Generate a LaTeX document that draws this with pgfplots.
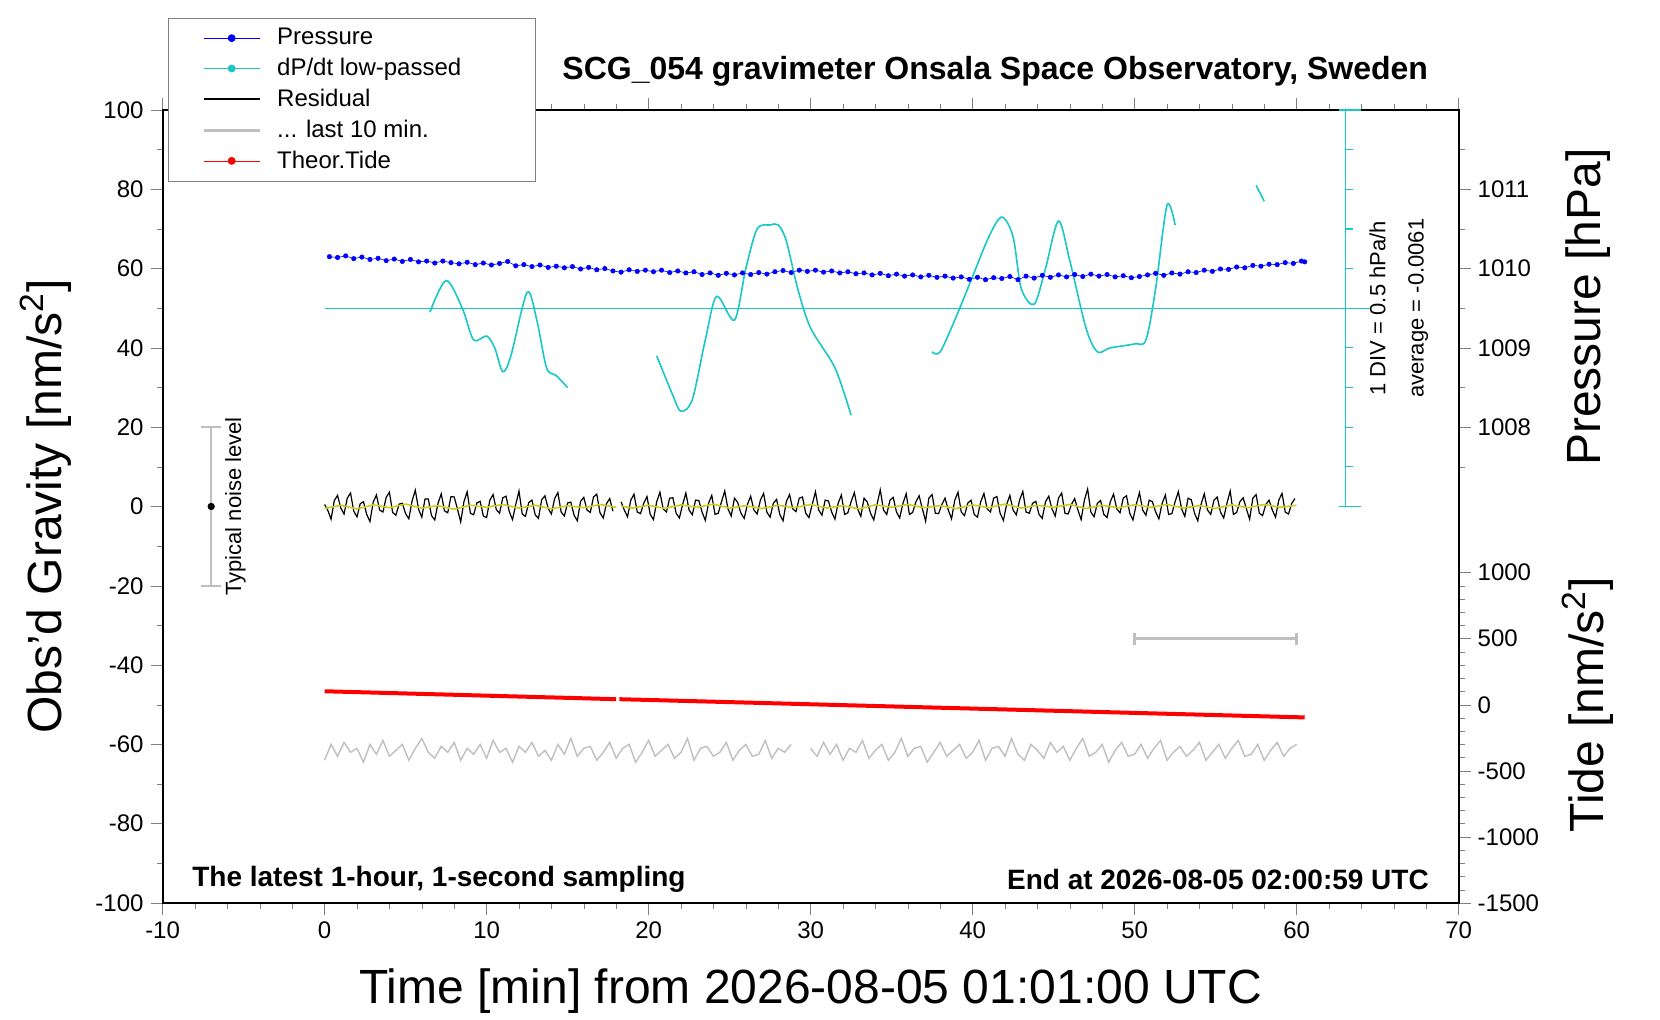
\documentclass[border=0pt]{standalone}
\usepackage{pgfplots}
\pgfplotsset{compat=1.18}
\usepackage{pgfplotstable}
\usepackage{fontspec}
\setmainfont{Liberation Sans}
\definecolor{cy}{rgb}{0.1,0.78,0.78}
\definecolor{gr}{rgb}{0.75,0.75,0.75}
\definecolor{yl}{rgb}{0.8,0.8,0.1}
\pgfplotstableread[row sep=\\]{y\\0.5\\-1.0\\-3.2\\1.5\\2.8\\-0.4\\-1.9\\2.1\\3.4\\-1.2\\-2.6\\0.7\\1.2\\-2.0\\-3.8\\1.1\\2.9\\-0.9\\-1.4\\2.3\\3.6\\-1.5\\-2.2\\0.6\\0.8\\-1.8\\-3.1\\1.4\\4.1\\-0.7\\-2.7\\1.9\\1.9\\-2.3\\-3.4\\0.8\\3.2\\-1.1\\-1.6\\2.5\\2.4\\-0.6\\-3.9\\1.2\\3.7\\-1.7\\-2.1\\0.9\\1.3\\-2.4\\-2.8\\1.6\\3.0\\-0.8\\-1.7\\2.2\\2.6\\-1.3\\-3.3\\0.5\\3.9\\-1.9\\-2.5\\1.0\\1.6\\-2.1\\-3.0\\1.7\\2.7\\-0.5\\-1.9\\2.0\\3.5\\-1.4\\-2.4\\0.9\\1.1\\-2.2\\-3.6\\1.3\\2.3\\-0.9\\-1.5\\2.4\\3.1\\-1.6\\-2.9\\0.7\\2.0\\-1.2\\}\resA
\pgfplotstableread[row sep=\\]{y\\1.2\\-0.9\\-2.6\\1.6\\3.1\\-1.4\\-1.8\\0.8\\2.5\\-2.0\\-3.3\\1.2\\3.6\\-0.6\\-1.4\\2.1\\2.2\\-1.7\\-2.9\\0.5\\3.4\\-0.9\\-2.1\\1.6\\1.5\\-1.4\\-3.5\\0.8\\2.8\\-2.0\\-1.7\\1.2\\3.9\\-0.6\\-2.4\\2.1\\1.0\\-1.7\\-3.0\\0.5\\2.6\\-0.9\\-1.9\\1.6\\3.3\\-1.4\\-2.7\\0.8\\1.8\\-2.0\\-3.6\\1.2\\3.0\\-0.6\\-1.3\\2.1\\2.4\\-1.7\\-2.8\\0.5\\3.7\\-0.9\\-2.2\\1.6\\1.4\\-1.4\\-3.2\\0.8\\2.9\\-2.0\\-1.6\\1.2\\3.5\\-0.6\\-2.5\\2.1\\1.1\\-1.7\\-3.4\\0.5\\4.2\\-0.9\\-2.0\\1.6\\2.3\\-1.4\\-2.9\\0.8\\3.2\\-2.0\\-1.5\\1.2\\2.7\\-0.6\\-3.7\\2.1\\3.0\\-1.7\\-1.8\\0.5\\2.1\\-0.9\\-3.1\\1.6\\3.6\\-1.4\\-2.3\\0.8\\1.6\\-2.0\\-2.7\\1.2\\3.3\\-0.6\\-1.4\\2.1\\2.5\\-1.7\\-3.5\\0.5\\2.8\\-0.9\\-2.1\\1.6\\3.8\\-1.4\\-1.7\\0.8\\1.3\\-2.0\\-3.0\\1.2\\2.6\\-0.6\\-2.4\\2.1\\3.4\\-1.7\\-1.9\\0.5\\2.0\\-0.9\\-3.3\\1.6\\4.4\\-1.4\\-2.6\\0.8\\1.5\\-2.0\\-2.8\\1.2\\3.1\\-0.6\\-1.6\\2.1\\2.7\\-1.7\\-3.4\\0.5\\3.5\\-0.9\\-2.2\\1.6\\1.2\\-1.4\\-3.1\\0.8\\2.9\\-2.0\\-1.8\\1.2\\3.7\\-0.6\\-2.5\\2.1\\1.7\\-1.7\\-3.6\\0.5\\3.2\\-0.9\\-2.0\\1.6\\2.4\\-1.4\\-2.9\\0.8\\3.9\\-2.0\\-1.5\\1.2\\2.2\\-0.6\\-3.2\\2.1\\3.0\\-1.7\\-2.3\\0.5\\1.6\\-0.9\\-2.7\\1.6\\3.3\\-1.4\\-1.9\\0.8\\2.0\\}\resB
\pgfplotstableread[row sep=\\]{y\\-64\\-60\\-63\\-59.5\\-62\\-61\\-64.5\\-60\\-62.5\\-59\\-63\\-61.5\\-60\\-64\\-61\\-58.5\\-62\\-63.5\\-60.5\\-62\\-59.5\\-64\\-61\\-62.5\\-60\\-63.5\\-59\\-62\\-61\\-64.5\\-60.5\\-62\\-59.5\\-63\\-61.5\\-64\\-60\\-62.5\\-58.5\\-63\\-61\\-60.5\\-64\\-62\\-59.5\\-63.5\\-61\\-60\\-64.5\\-62\\-59\\-63\\-61.5\\-60\\-63.5\\-62\\-58.5\\-64\\-61\\-60.5\\-63\\-62\\-59.5\\-64\\-61.5\\-60\\-63\\-62.5\\-59\\-63.5\\-61\\-62\\-60\\}\grA
\pgfplotstableread[row sep=\\]{y\\-61\\-63\\-59.5\\-62.5\\-60\\-64\\-61\\-62\\-59\\-63.5\\-61.5\\-60\\-64\\-62\\-58.5\\-63\\-61\\-60.5\\-64.5\\-62\\-59.5\\-63\\-61.5\\-60\\-63.5\\-62\\-59\\-64\\-61\\-60.5\\-63\\-58.5\\-62.5\\-64\\-60\\-61.5\\-63.5\\-59.5\\-62\\-60.5\\-64\\-61\\-58.5\\-63\\-62\\-60\\-64.5\\-61.5\\-59.5\\-63\\-62.5\\-60\\-63.5\\-61\\-59\\-64\\-62\\-60.5\\-63\\-61.5\\-59.5\\-64\\-62\\-60\\-63.5\\-61\\-59\\-63\\-62.5\\-60\\-64\\-61.5\\-59.5\\-63\\-61\\-60\\}\grB
\newcommand{\legtxt}[1]{\hspace{6pt}\makebox[110pt][l]{#1}}
\begin{document}
\begin{tikzpicture}[font=\fontsize{12}{14}\selectfont]
\path[use as bounding box] (-81.3pt,-58.5pt) rectangle (748.7pt,451.5pt);
% pressure axis
\begin{axis}[scale only axis, width=648pt, height=396.5pt, at={(0,0)}, anchor=south west,
  ymin=1002, ymax=1012, xmin=-10, xmax=70, hide x axis, axis y line*=right,
  axis line style={draw=none}, ytick={1008,1009,1010,1011}, minor ytick={1007.5,1008.5,1009.5,1010.5,1011.5},
  tick align=outside, major tick length=6pt, minor tick length=3pt,
  /pgf/number format/assume math mode=true, /pgf/number format/set thousands separator={}]
\end{axis}
% tide axis
\begin{axis}[scale only axis, width=648pt, height=396.5pt, at={(0,0)}, anchor=south west,
  ymin=-1500, ymax=4500, xmin=-10, xmax=70, hide x axis, axis y line*=right,
  axis line style={draw=none}, ytick={-1500,-1000,...,1000}, minor tick num=4,
  tick align=outside, major tick length=6pt, minor tick length=3pt,
  /pgf/number format/assume math mode=true, /pgf/number format/set thousands separator={}]
\end{axis}
\begin{axis}[scale only axis, width=648pt, height=396.5pt, at={(0,0)}, anchor=south west,
  xmin=-10, xmax=70, ymin=-100, ymax=100, clip=false,
  xtick={-10,0,...,70}, ytick={-100,-80,...,100}, minor x tick num=4, minor y tick num=1,
  ytick pos=left, xticklabel pos=lower, tick align=outside, major tick length=6pt, minor tick length=3pt,
  axis line style={line width=1pt},
  /pgf/number format/assume math mode=true,
  xlabel={Time [min] from 2026-08-05 01:01:00 UTC},
  ylabel={Obs'd Gravity [nm/s\textsuperscript{2}]},
  label style={font=\fontsize{24}{28}\selectfont},
  xlabel style={yshift=-8pt}, ylabel style={yshift=5pt},
  legend style={at={(0.004,1.116)}, anchor=north west, draw=gray, fill=white, font=\fontsize{12}{14}\selectfont, row sep=1.2pt, inner xsep=17pt, inner ysep=3pt},
  legend cell align=left,
  legend image code/.code={\draw[mark repeat=2, mark phase=2, #1] plot coordinates {(0pt,0pt)(14pt,0pt)(28pt,0pt)};},
  unbounded coords=jump]
\addlegendimage{blue, line width=0.3pt, mark=*, mark size=1.8pt}
\addlegendentry{\legtxt{Pressure}}
\addlegendimage{cy, line width=0.3pt, mark=*, mark size=1.8pt}
\addlegendentry{\legtxt{dP/dt low-passed}}
\addlegendimage{black, line width=1pt}
\addlegendentry{\legtxt{Residual}}
\addlegendimage{gr, line width=1.5pt}
\addlegendentry{\legtxt{... last 10 min.}}
\addlegendimage{red, line width=0.3pt, mark=*, mark size=1.8pt}
\addlegendentry{\legtxt{Theor.Tide}}
% cyan reference line and scale
\addplot[cy, line width=0.6pt, forget plot] coordinates {(0,50)(64.5,50)};
\addplot[cy, line width=0.6pt, forget plot] coordinates {(63,0)(63,100)};
\addplot[cy, line width=0.6pt, forget plot] coordinates {(62.6,0)(64,0)(nan,nan)(63,10)(63.5,10)(nan,nan)(63,20)(63.5,20)(nan,nan)(63,30)(63.5,30)(nan,nan)(63,40)(63.5,40)(nan,nan)(63,50)(63.5,50)(nan,nan)(63,60)(63.5,60)(nan,nan)(63,70)(63.5,70)(nan,nan)(63,80)(63.5,80)(nan,nan)(63,90)(63.5,90)(nan,nan)(62.6,100)(64,100)};
% gray last-10-min
\addplot[gr, line width=0.7pt, forget plot] table[x expr=\coordindex*0.4, y=y] {\grA};
\addplot[gr, line width=0.7pt, forget plot] table[x expr=30+\coordindex*0.4, y=y] {\grB};
% red tide
\addplot[red, line width=2pt, forget plot] coordinates {(0,-46.6)(18,-48.6)(nan,nan)(18.2,-48.6)(60.5,-53.2)};
% gray bar
\addplot[gr, line width=1.5pt, forget plot] coordinates {(50,-33.4)(60,-33.4)};
\addplot[gr, line width=1.5pt, forget plot] coordinates {(50,-35)(50,-31.8)(nan,nan)(60,-35)(60,-31.8)};
% residual
\addplot[black, line width=0.6pt, forget plot] table[x expr=\coordindex*0.2, y=y] {\resA};
\addplot[black, line width=0.6pt, forget plot] table[x expr=18.3+\coordindex*0.2, y=y] {\resB};
\addplot[yl, line width=0.8pt, forget plot] coordinates {(0,-0.5)(1,0.3)(2,-0.6)(3,0.4)(4,-0.3)(5,0.6)(6,-0.4)(7,0.2)(8,-0.7)(9,0.3)(10,-0.2)(11,0.5)(12,-0.4)(13,0.3)(14,-0.6)(15,0.2)(16,-0.3)(17,0.5)(18,-0.2)(nan,nan)(18.3,0.1)(19,-0.4)(20,0.3)(21,-0.5)(22,0.4)(23,-0.2)(24,0.6)(25,-0.4)(26,0.2)(27,-0.5)(28,0.3)(29,-0.3)(30,0.5)(31,-0.4)(32,0.2)(33,-0.6)(34,0.4)(35,-0.2)(36,0.5)(37,-0.3)(38,0.2)(39,-0.5)(40,0.4)(41,-0.3)(42,0.6)(43,-0.4)(44,0.3)(45,-0.2)(46,0.5)(47,-0.5)(48,0.3)(49,-0.3)(50,0.4)(51,-0.2)(52,0.5)(53,-0.4)(54,0.2)(55,-0.5)(56,0.4)(57,-0.3)(58,0.5)(59,-0.2)(60,0.3)};
% pressure
\addplot[blue, line width=0.3pt, mark=*, mark size=1.1pt, forget plot] coordinates {(0.3,63)(0.8,62.8)(1.3,63.2)(1.8,62.5)(2.3,62.9)(2.8,62.3)(3.3,62.6)(3.8,62.0)(4.3,62.4)(4.8,61.8)(5.3,62.3)(5.8,61.7)(6.3,61.9)(6.8,61.4)(7.3,61.9)(7.8,61.5)(8.3,61.2)(8.8,61.6)(9.3,61.0)(9.8,61.4)(10.3,60.9)(10.8,61.3)(11.3,61.8)(11.8,60.7)(12.3,61.0)(12.8,60.5)(13.3,60.9)(13.8,60.3)(14.3,60.6)(14.8,60.2)(15.3,60.5)(15.8,59.9)(16.3,60.3)(16.8,59.7)(17.3,60.0)(17.8,59.4)(18.3,59.1)(18.8,59.7)(19.3,59.3)(19.8,59.6)(20.3,59.2)(20.8,59.6)(21.3,59.0)(21.8,59.4)(22.3,58.9)(22.8,59.2)(23.3,58.5)(23.8,58.9)(24.3,58.3)(24.8,58.8)(25.3,58.4)(25.8,58.9)(26.3,58.5)(26.8,59.0)(27.3,58.6)(27.8,59.2)(28.3,59.5)(28.8,59.0)(29.3,59.6)(29.8,59.3)(30.3,59.6)(30.8,59.1)(31.3,59.4)(31.8,58.9)(32.3,59.2)(32.8,58.7)(33.3,58.9)(33.8,58.4)(34.3,58.8)(34.8,58.2)(35.3,58.6)(35.8,58.1)(36.3,58.4)(36.8,57.9)(37.3,58.3)(37.8,57.8)(38.3,58.1)(38.8,57.6)(39.3,57.9)(39.8,57.3)(40.3,57.8)(40.8,57.2)(41.3,57.7)(41.8,57.5)(42.3,58.0)(42.8,57.2)(43.3,58.1)(43.8,57.6)(44.3,58.3)(44.8,57.8)(45.3,58.4)(45.8,57.9)(46.3,58.5)(46.8,58.0)(47.3,58.6)(47.8,58.1)(48.3,58.5)(48.8,57.9)(49.3,58.2)(49.8,57.7)(50.3,58.0)(50.8,58.4)(51.3,58.8)(51.8,58.3)(52.3,58.9)(52.8,58.6)(53.3,59.2)(53.8,59.0)(54.3,59.6)(54.8,59.3)(55.3,59.9)(55.8,59.8)(56.3,60.4)(56.8,60.2)(57.3,60.8)(57.8,60.6)(58.3,61.1)(58.8,61.0)(59.3,61.5)(59.8,61.3)(60.3,61.9)(60.5,61.7)};
% dP/dt
\addplot[cy, line width=0.8pt, smooth, forget plot] coordinates {(6.5,49)(7.5,57)(8.5,50)(9.2,42)(10,43)(10.5,40)(11,34)(11.5,38)(12.5,54)(13.1,47)(13.7,35)(14.3,33)(15,30)};
\addplot[cy, line width=0.8pt, smooth, forget plot] coordinates {(20.5,38)(21.5,28)(22,24)(22.7,27)(23.5,42)(24.2,53)(25.3,47)(26,60)(26.7,70)(27.5,71)(28,71)(28.5,67)(29.2,55)(30,45)(31.5,35)(32.5,23)};
\addplot[cy, line width=0.8pt, smooth, forget plot] coordinates {(37.5,39)(38,39)(39,48)(40,58)(41,68)(41.8,73)(42.5,68)(43,55)(43.8,51)(44.5,60)(45.3,72)(46,62)(47,45)(47.7,39)(48.5,40)(50,41)(50.7,42)(51.3,55)(52,76)(52.5,71)};
\addplot[cy, line width=0.8pt, forget plot] coordinates {(57.5,81)(58,77)};
% noise level
\addplot[gr, line width=1pt, forget plot] coordinates {(-7,-20)(-7,20)(nan,nan)(-7.6,-20)(-6.4,-20)(nan,nan)(-7.6,20)(-6.4,20)};
\addplot[black, only marks, mark=*, mark size=1.6pt, forget plot] coordinates {(-7,0)};
\node[rotate=90, font=\fontsize{11}{13}\selectfont] at (axis cs:-5.5,0) {Typical noise level};
\node[rotate=90, font=\fontsize{11}{13}\selectfont] at (axis cs:65,50) {1 DIV = 0.5 hPa/h};
\node[rotate=90, font=\fontsize{11}{13}\selectfont] at (axis cs:67.5,50) {average = -0.0061};
\node[font=\bfseries\fontsize{16}{18}\selectfont] at (axis cs:41.4,109.8) {SCG\_054 gravimeter Onsala Space Observatory, Sweden};
\node[anchor=west, font=\bfseries\fontsize{14}{16}\selectfont] at (axis cs:-8.6,-94.1) {The latest 1-hour, 1-second sampling};
\node[anchor=east, font=\bfseries\fontsize{14}{16}\selectfont] at (axis cs:68.6,-94.1) {End at 2026-08-05 02:00:59 UTC};
\node[rotate=90, font=\fontsize{24}{28}\selectfont] at (axis cs:78,50.3) {Pressure [hPa]};
\node[rotate=90, font=\fontsize{24}{28}\selectfont] at (axis cs:78,-50) {Tide [nm/s\textsuperscript{2}]};
\end{axis}
\end{tikzpicture}
\end{document}
